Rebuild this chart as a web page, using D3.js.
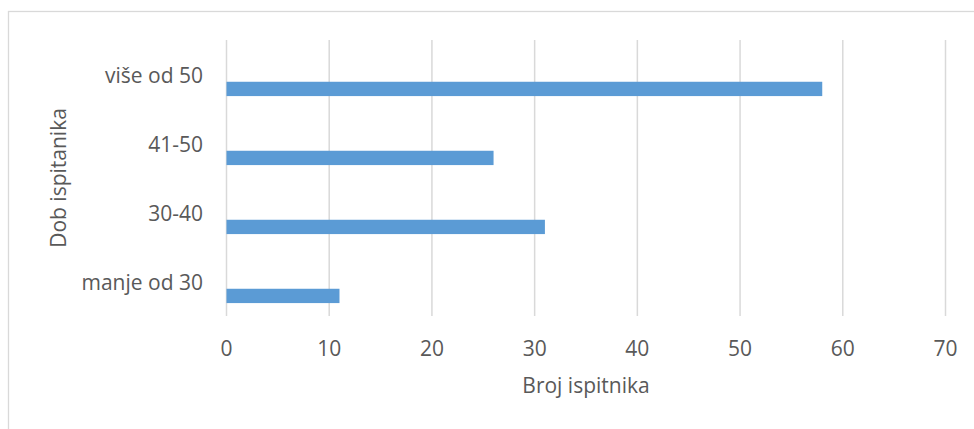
<!DOCTYPE html>
<html>
<head>
<meta charset="utf-8">
<script src="https://cdn.jsdelivr.net/npm/d3@7"></script>
<style>
  html, body { margin: 0; padding: 0; background: #fff; }
  text { font-family: "Open Sans", "Noto Sans", sans-serif; fill: #595959; }
</style>
</head>
<body>
<svg id="chart" width="974" height="429"></svg>
<script>
const categories = ["manje od 30", "30-40", "41-50", "više od 50"];
const values = [11, 31, 26, 58];
const xTicks = [0, 10, 20, 30, 40, 50, 60, 70];
const xTitle = "Broj ispitnika";
const yTitle = "Dob ispitanika";

const svg = d3.select("#chart");
const plot = { left: 226.5, right: 945.5, top: 40, bottom: 316 };

// chart frame (top and left edges visible)
svg.append("rect").attr("x", 8.5).attr("y", 11.5).attr("width", 980).attr("height", 440)
  .attr("fill", "none").attr("stroke", "#d9d9d9").attr("stroke-width", 1.3);

const x = d3.scaleLinear().domain([0, 70]).range([plot.left, plot.right]);
const y = d3.scaleBand().domain(categories.slice().reverse()).range([plot.top, plot.bottom]);
// two-slot cluster; the visible series occupies the lower slot
const slot = d3.scaleBand().domain(["empty", "series"]).range([0, y.bandwidth()])
  .paddingInner(0).paddingOuter(1.41).align(0.68);

// gridlines
svg.append("g").selectAll("line").data(xTicks).join("line")
  .attr("x1", d => x(d)).attr("x2", d => x(d))
  .attr("y1", plot.top).attr("y2", plot.bottom)
  .attr("stroke", "#d9d9d9").attr("stroke-width", 1.5);

// bars
svg.append("g").selectAll("rect").data(categories).join("rect")
  .attr("x", x(0))
  .attr("y", (c) => y(c) + slot("series"))
  .attr("width", (c, i) => x(values[i]) - x(0))
  .attr("height", slot.bandwidth())
  .attr("fill", "#5b9bd5");

// x axis tick labels
svg.append("g").selectAll("text").data(xTicks).join("text")
  .attr("x", d => x(d)).attr("y", 356)
  .attr("text-anchor", "middle")
  .style("font-size", "21px")
  .text(d => d);

// y category labels
svg.append("g").selectAll("text").data(categories).join("text")
  .attr("x", 203).attr("y", c => y(c) + y.bandwidth() / 2 + 8)
  .attr("text-anchor", "end")
  .style("font-size", "21px")
  .text(c => c);

// axis titles
svg.append("text").attr("x", (plot.left + plot.right) / 2).attr("y", 393)
  .attr("text-anchor", "middle").style("font-size", "21px").text(xTitle);

svg.append("text")
  .attr("transform", `translate(66, ${(plot.top + plot.bottom) / 2}) rotate(-90)`)
  .attr("text-anchor", "middle").style("font-size", "21px").text(yTitle);
</script>
</body>
</html>
